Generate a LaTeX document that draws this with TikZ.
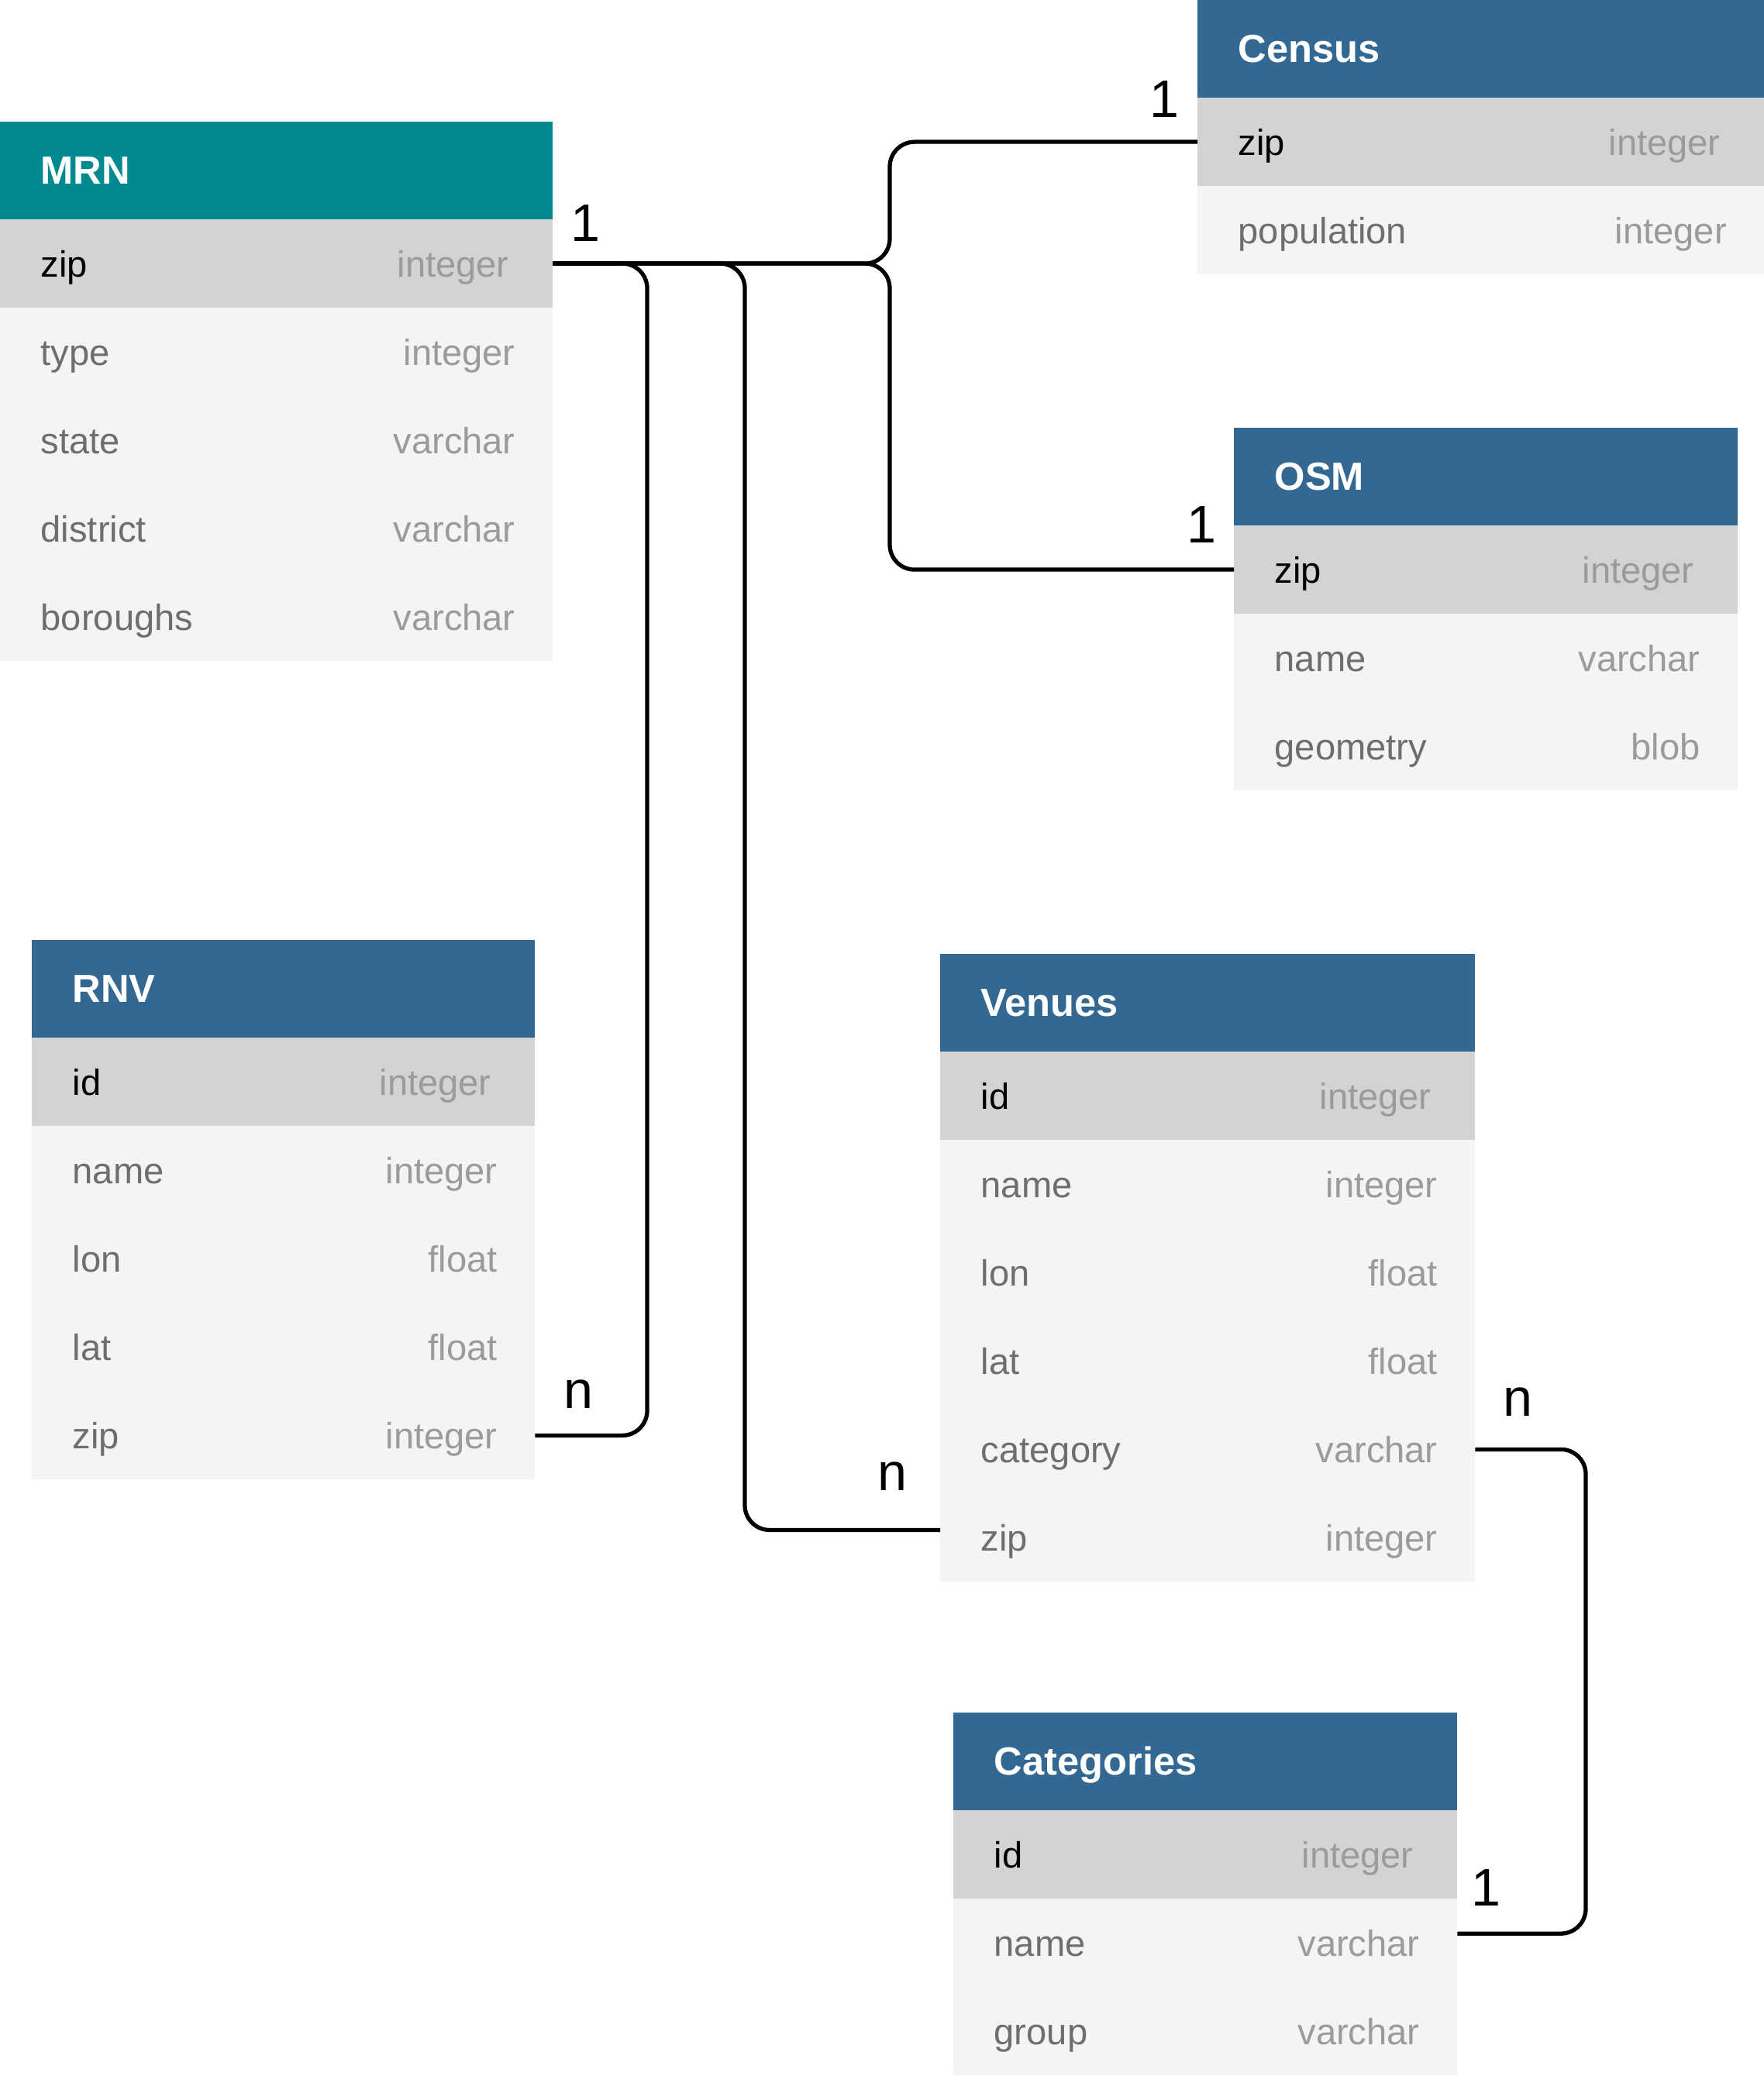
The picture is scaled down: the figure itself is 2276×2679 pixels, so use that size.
\documentclass[tikz,border=0pt]{standalone}
\usepackage{fontspec}
\setmainfont{Liberation Sans}
\usetikzlibrary{positioning}

\definecolor{mrnteal}{RGB}{0, 137, 143}
\definecolor{tableblue}{RGB}{50, 104, 146}
\definecolor{keygrey}{RGB}{211, 211, 211}
\definecolor{rowgrey}{RGB}{244, 244, 244}
\definecolor{nametext}{RGB}{110, 110, 110}
\definecolor{typetext}{RGB}{155, 155, 155}

\newcommand{\erfont}{\fontsize{13.4}{16}\selectfont}
\newcommand{\titlefont}{\fontsize{14.4}{17}\selectfont}
\newcommand{\cardfont}{\fontsize{19.4}{22}\selectfont}

\tikzset{
  tablehead/.style={anchor=north west, minimum height=1.26cm, inner sep=0pt, outer sep=0pt, fill=tableblue},
  tabletitle/.style={anchor=west, xshift=0.52cm, inner sep=0pt, text=white, font=\titlefont\bfseries, text height=0.36cm, text depth=0.02cm},
  field/.style={minimum height=1.14cm, inner sep=0pt, outer sep=0pt, fill=rowgrey},
  keyfield/.style={field, fill=keygrey},
  fname/.style={anchor=west, xshift=0.52cm, inner sep=0pt, text=nametext, font=\erfont, text height=0.36cm, text depth=0.02cm},
  keyname/.style={fname, text=black},
  ftype/.style={anchor=east, xshift=-0.48cm, inner sep=0pt, text=typetext, font=\erfont, text height=0.36cm, text depth=0.02cm},
  keytype/.style={ftype, xshift=-0.08cm},
  link/.style={line width=1.5pt, rounded corners=0.32cm},
  card/.style={anchor=base, inner sep=0pt, font=\cardfont}
}

\begin{document}
\begin{tikzpicture}[x=0.01cm, y=-0.01cm]
  \useasboundingbox (0,0) rectangle (2276,2679);

  % ===== MRN =====
  \node[tablehead, fill=mrnteal, minimum width=7.13cm, label={[tabletitle]west:MRN}] (mrn) at (0,157) {};
  \node[keyfield, minimum width=7.13cm, below=0pt of mrn, label={[keyname]west:zip}, label={[keytype]east:integer}] (mrnzip) {};
  \node[field, minimum width=7.13cm, below=0pt of mrnzip, label={[fname]west:type}, label={[ftype]east:integer}] (mrntype) {};
  \node[field, minimum width=7.13cm, below=0pt of mrntype, label={[fname]west:state}, label={[ftype]east:varchar}] (mrnstate) {};
  \node[field, minimum width=7.13cm, below=0pt of mrnstate, label={[fname]west:district}, label={[ftype]east:varchar}] (mrndistrict) {};
  \node[field, minimum width=7.13cm, below=0pt of mrndistrict, label={[fname]west:boroughs}, label={[ftype]east:varchar}] (mrnboroughs) {};

  % ===== Census =====
  \node[tablehead, minimum width=7.31cm, label={[tabletitle]west:Census}] (census) at (1545,0) {};
  \node[keyfield, minimum width=7.31cm, below=0pt of census, label={[keyname]west:zip}, label={[keytype]east:integer}] (cenzip) {};
  \node[field, minimum width=7.31cm, below=0pt of cenzip, label={[fname]west:population}, label={[ftype]east:integer}] (cenpop) {};

  % ===== OSM =====
  \node[tablehead, minimum width=6.50cm, label={[tabletitle]west:OSM}] (osm) at (1592,552) {};
  \node[keyfield, minimum width=6.50cm, below=0pt of osm, label={[keyname]west:zip}, label={[keytype]east:integer}] (osmzip) {};
  \node[field, minimum width=6.50cm, below=0pt of osmzip, label={[fname]west:name}, label={[ftype]east:varchar}] (osmname) {};
  \node[field, minimum width=6.50cm, below=0pt of osmname, label={[fname]west:geometry}, label={[ftype]east:blob}] (osmgeom) {};

  % ===== RNV =====
  \node[tablehead, minimum width=6.49cm, label={[tabletitle]west:RNV}] (rnv) at (41,1213) {};
  \node[keyfield, minimum width=6.49cm, below=0pt of rnv, label={[keyname]west:id}, label={[keytype]east:integer}] (rnvid) {};
  \node[field, minimum width=6.49cm, below=0pt of rnvid, label={[fname]west:name}, label={[ftype]east:integer}] (rnvname) {};
  \node[field, minimum width=6.49cm, below=0pt of rnvname, label={[fname]west:lon}, label={[ftype]east:float}] (rnvlon) {};
  \node[field, minimum width=6.49cm, below=0pt of rnvlon, label={[fname]west:lat}, label={[ftype]east:float}] (rnvlat) {};
  \node[field, minimum width=6.49cm, below=0pt of rnvlat, label={[fname]west:zip}, label={[ftype]east:integer}] (rnvzip) {};

  % ===== Venues =====
  \node[tablehead, minimum width=6.90cm, label={[tabletitle]west:Venues}] (venues) at (1213,1231) {};
  \node[keyfield, minimum width=6.90cm, below=0pt of venues, label={[keyname]west:id}, label={[keytype]east:integer}] (venid) {};
  \node[field, minimum width=6.90cm, below=0pt of venid, label={[fname]west:name}, label={[ftype]east:integer}] (venname) {};
  \node[field, minimum width=6.90cm, below=0pt of venname, label={[fname]west:lon}, label={[ftype]east:float}] (venlon) {};
  \node[field, minimum width=6.90cm, below=0pt of venlon, label={[fname]west:lat}, label={[ftype]east:float}] (venlat) {};
  \node[field, minimum width=6.90cm, below=0pt of venlat, label={[fname]west:category}, label={[ftype]east:varchar}] (vencat) {};
  \node[field, minimum width=6.90cm, below=0pt of vencat, label={[fname]west:zip}, label={[ftype]east:integer}] (venzip) {};

  % ===== Categories =====
  \node[tablehead, minimum width=6.50cm, label={[tabletitle]west:Categories}] (categories) at (1230,2210) {};
  \node[keyfield, minimum width=6.50cm, below=0pt of categories, label={[keyname]west:id}, label={[keytype]east:integer}] (catid) {};
  \node[field, minimum width=6.50cm, below=0pt of catid, label={[fname]west:name}, label={[ftype]east:varchar}] (catname) {};
  \node[field, minimum width=6.50cm, below=0pt of catname, label={[fname]west:group}, label={[ftype]east:varchar}] (catgroup) {};

  % Relations (bus columns)
  \coordinate (busR) at (835,0);
  \coordinate (busV) at (961,0);
  \coordinate (busA) at (1148,0);
  \coordinate (busC) at (2046,0);
  \coordinate (venzipin) at ([yshift=0.1cm]venzip.west);
  \coordinate (catnamein) at ([yshift=0.12cm]catname.east);

  \draw[link] (mrnzip.east) -| (busA |- cenzip.west) -- (cenzip.west);
  \draw[link] (mrnzip.east) -| (busA |- osmzip.west) -- (osmzip.west);
  \draw[link] (mrnzip.east) -| (busR |- rnvzip.east) -- (rnvzip.east);
  \draw[link] (mrnzip.east) -| (busV |- venzipin) -- (venzipin);
  \draw[link] (vencat.east) -| (busC |- catnamein) -- (catnamein);

  % Cardinalities
  \node[card] (mrnone) at (755,312) {1};
  \node[card] (cenone) at (1502,152) {1};
  \node[card] (osmone) at (1550,700) {1};
  \node[card] (rnvmany) at (746,1817) {n};
  \node[card] (venmany) at (1151,1923) {n};
  \node[card] (venmanyr) at (1958,1827) {n};
  \node[card] (catone) at (1917,2459) {1};
\end{tikzpicture}
\end{document}
